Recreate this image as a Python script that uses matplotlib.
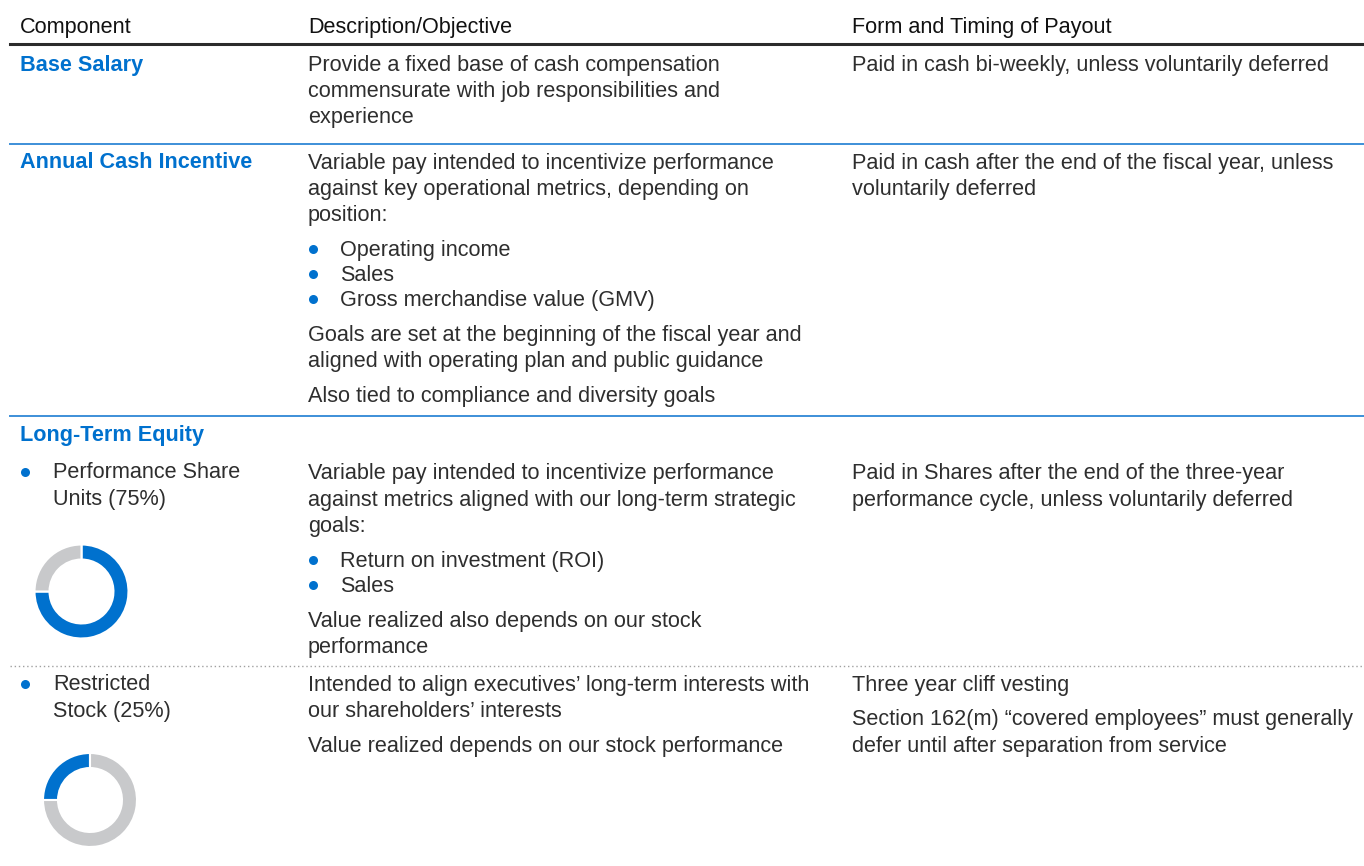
import matplotlib.pyplot as plt

plt.rcParams['font.family'] = ['Liberation Sans', 'DejaVu Sans']

BLUE = '#0071ce'
GRAY = '#c8c9cb'
TEXT = '#2e2e2e'

# ------------------------ table content ------------------------
headers = ['Component', 'Description/Objective', 'Form and Timing of Payout']

base_desc = [['Provide a fixed base of cash compensation',
              'commensurate with job responsibilities and',
              'experience']]
base_pay = [['Paid in cash bi-weekly, unless voluntarily deferred']]

aci_desc = [['Variable pay intended to incentivize performance',
             'against key operational metrics, depending on',
             'position:'],
            ('bullets', ['Operating income', 'Sales', 'Gross merchandise value (GMV)']),
            ['Goals are set at the beginning of the fiscal year and',
             'aligned with operating plan and public guidance'],
            ['Also tied to compliance and diversity goals']]
aci_pay = [['Paid in cash after the end of the fiscal year, unless',
            'voluntarily deferred']]

psu_label = ['Performance Share', 'Units (75%)']
psu_desc = [['Variable pay intended to incentivize performance',
             'against metrics aligned with our long-term strategic',
             'goals:'],
            ('bullets', ['Return on investment (ROI)', 'Sales']),
            ['Value realized also depends on our stock',
             'performance']]
psu_pay = [['Paid in Shares after the end of the three-year',
            'performance cycle, unless voluntarily deferred']]

rs_label = ['Restricted', 'Stock (25%)']
rs_desc = [['Intended to align executives\u2019 long-term interests with',
            'our shareholders\u2019 interests'],
           ['Value realized depends on our stock performance']]
rs_pay = [['Three year cliff vesting'],
          ['Section 162(m) \u201ccovered employees\u201d must generally',
           'defer until after separation from service']]

psu_split = [75, 25]
rs_split = [25, 75]

# ------------------------ drawing ------------------------
W, H = 1364, 866
fig = plt.figure(figsize=(W / 100, H / 100), dpi=100)
ax = fig.add_axes([0, 0, 1, 1])
ax.set_xlim(0, W)
ax.set_ylim(H, 0)
ax.axis('off')

FS = 15.6
LH = 26.3     # line step inside a paragraph
BH = 25.0     # line step inside a bullet list
PSTEP = 35    # step from last line of a paragraph to the next paragraph
COLX = [20, 308, 852]


def bullet(x, y):
    ax.plot(x, y - 1.5, 'o', color=BLUE, ms=6.5, mew=0)


def draw_cell(x, y, paras):
    for i, p in enumerate(paras):
        if i > 0:
            y += PSTEP
        if isinstance(p, tuple):
            for j, item in enumerate(p[1]):
                if j > 0:
                    y += BH
                bullet(x + 5, y)
                ax.text(x + 32, y, item, color=TEXT, fontsize=FS, va='center')
        else:
            for j, line in enumerate(p):
                if j > 0:
                    y += LH
                ax.text(x, y, line, color=TEXT, fontsize=FS, va='center')


for x, h in zip(COLX, headers):
    ax.text(x, 27, h, color='#111111', fontsize=FS, va='center')
ax.plot([10, W], [43.5, 43.5], color='#2b2b2b', lw=2.2)

# Base salary
ax.text(COLX[0], 65, 'Base Salary', color=BLUE, fontsize=FS, weight='bold', va='center')
draw_cell(COLX[1], 65, base_desc)
draw_cell(COLX[2], 65, base_pay)
ax.plot([10, W], [144, 144], color='#3d8fd8', lw=1.4)

# Annual cash incentive
ax.text(COLX[0], 163, 'Annual Cash Incentive', color=BLUE, fontsize=FS, weight='bold', va='center')
draw_cell(COLX[1], 163, aci_desc)
draw_cell(COLX[2], 163, aci_pay)
ax.plot([10, W], [416, 416], color='#3d8fd8', lw=1.4)

# Long-term equity
ax.text(COLX[0], 435, 'Long-Term Equity', color=BLUE, fontsize=FS, weight='bold', va='center')

bullet(COLX[0] + 5, 473)
ax.text(COLX[0] + 33, 473, psu_label[0], color=TEXT, fontsize=FS, va='center')
ax.text(COLX[0] + 33, 473 + LH, psu_label[1], color=TEXT, fontsize=FS, va='center')
draw_cell(COLX[1], 474, psu_desc)
draw_cell(COLX[2], 474, psu_pay)
ax.plot([10, W], [666, 666], color='#a0a0a0', lw=1, ls=(0, (1, 2)))

bullet(COLX[0] + 5, 685)
ax.text(COLX[0] + 33, 685, rs_label[0], color=TEXT, fontsize=FS, va='center')
ax.text(COLX[0] + 33, 685 + LH, rs_label[1], color=TEXT, fontsize=FS, va='center')
draw_cell(COLX[1], 685, rs_desc)
draw_cell(COLX[2], 685, rs_pay)


def donut(cx, cy, r, vals, counterclock):
    d = 2 * r
    a = fig.add_axes([(cx - r) / W, 1 - (cy + r) / H, d / W, d / H])
    a.pie(vals, colors=[BLUE, GRAY], startangle=90, counterclock=counterclock,
          wedgeprops=dict(width=0.32, edgecolor='white', linewidth=1.5))
    a.set_xlim(-1, 1)
    a.set_ylim(-1, 1)
    a.set_aspect('equal')
    a.axis('off')


donut(81.5, 591.5, 47, psu_split, False)
donut(90, 800, 47, rs_split, True)

fig.savefig('out.png', dpi=100)
